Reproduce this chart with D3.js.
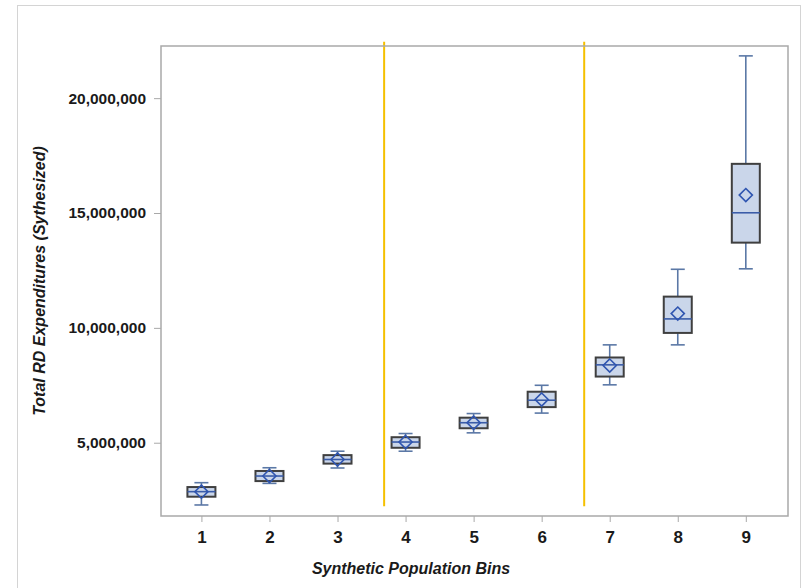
<!DOCTYPE html>
<html>
<head>
<meta charset="utf-8">
<script src="https://cdn.jsdelivr.net/npm/d3@7/dist/d3.min.js"></script>
<style>
    body { margin: 0; background: #fff; }
    svg { display: block; }
    .tick-y { font-family: "Liberation Sans", Arial, sans-serif; font-weight: bold; font-size: 15.5px; fill: #1a1a1a; }
    .tick-x { font-family: "Liberation Sans Narrow", "Arial Narrow", sans-serif; font-weight: bold; font-size: 17px; fill: #1a1a1a; }
    .title-x { font-family: "Liberation Sans Narrow", "Arial Narrow", sans-serif; font-weight: bold; font-style: italic; font-size: 16px; fill: #1a1a1a; }
    .title-y { font-family: "Liberation Sans", Arial, sans-serif; font-weight: bold; font-style: italic; font-size: 16px; fill: #1a1a1a; }
</style>
</head>
<body>
<svg id="chart" width="806" height="588"></svg>
<script>
// synthetic population bins and box statistics (millions)
var bins    = [1, 2, 3, 4, 5, 6, 7, 8, 9];
var mins    = [2.29, 3.23, 3.90, 4.63, 5.43, 6.29, 7.52, 9.26, 12.57];
var q1s     = [2.65, 3.33, 4.09, 4.78, 5.63, 6.55, 7.88, 9.78, 13.71];
var medians = [2.87, 3.55, 4.27, 5.03, 5.87, 6.85, 8.39, 10.39, 15.01];
var q3s     = [3.07, 3.77, 4.46, 5.24, 6.09, 7.22, 8.71, 11.36, 17.14];
var maxs    = [3.26, 3.91, 4.63, 5.40, 6.27, 7.50, 9.26, 12.55, 21.84];
var means   = [2.87, 3.55, 4.27, 5.03, 5.87, 6.88, 8.36, 10.62, 15.78];

var yTicks = [5, 10, 15, 20];    // millions
var refLines = [3.685, 6.625];   // vertical reference lines (bin units)
var refTop = 22.45, refBottom = 2.23;

var svg = d3.select("#chart");

var margin = { top: 46, right: 18, bottom: 72, left: 161 },
    width = 806,
    height = 588;

var x = d3.scaleLinear()
    .domain([0.406, 9.62])
    .range([margin.left, width - margin.right]);

var y = d3.scaleLinear()
    .domain([1.81, 22.27])
    .range([height - margin.bottom, margin.top]);

var boxW = 28, capW = 14;

var data = bins.map(function(b, i) {
    return { bin: b, min: mins[i], q1: q1s[i], med: medians[i], q3: q3s[i], max: maxs[i], mean: means[i] };
});

// outer border
svg.append("rect")
    .attr("x", 17.5).attr("y", 5.5)
    .attr("width", 783).attr("height", 600)
    .attr("fill", "none")
    .attr("stroke", "#d4d4d4");

// reference lines
svg.append("g")
    .selectAll("line")
    .data(refLines)
    .enter()
    .append("line")
    .attr("x1", d => x(d)).attr("x2", d => x(d))
    .attr("y1", y(refTop)).attr("y2", y(refBottom))
    .attr("stroke", "#f5c000")
    .attr("stroke-width", 2);

// boxes
var g = svg.append("g").attr("class", "boxes")
    .selectAll("g")
    .data(data)
    .enter()
    .append("g");

g.append("line")
    .attr("x1", d => x(d.bin)).attr("x2", d => x(d.bin))
    .attr("y1", d => y(d.max)).attr("y2", d => y(d.q3))
    .attr("stroke", "#5b78a6").attr("stroke-width", 1.6);

g.append("line")
    .attr("x1", d => x(d.bin)).attr("x2", d => x(d.bin))
    .attr("y1", d => y(d.q1)).attr("y2", d => y(d.min))
    .attr("stroke", "#5b78a6").attr("stroke-width", 1.6);

g.append("line")
    .attr("x1", d => x(d.bin) - capW / 2).attr("x2", d => x(d.bin) + capW / 2)
    .attr("y1", d => y(d.max)).attr("y2", d => y(d.max))
    .attr("stroke", "#5b78a6").attr("stroke-width", 1.6);

g.append("line")
    .attr("x1", d => x(d.bin) - capW / 2).attr("x2", d => x(d.bin) + capW / 2)
    .attr("y1", d => y(d.min)).attr("y2", d => y(d.min))
    .attr("stroke", "#5b78a6").attr("stroke-width", 1.6);

g.append("rect")
    .attr("x", d => x(d.bin) - boxW / 2)
    .attr("y", d => y(d.q3))
    .attr("width", boxW)
    .attr("height", d => y(d.q1) - y(d.q3))
    .attr("fill", "#cad6ea")
    .attr("stroke", "#3f3f3f")
    .attr("stroke-width", 2);

g.append("line")
    .attr("x1", d => x(d.bin) - boxW / 2).attr("x2", d => x(d.bin) + boxW / 2)
    .attr("y1", d => y(d.med)).attr("y2", d => y(d.med))
    .attr("stroke", "#3a5ca8").attr("stroke-width", 1.6);

g.append("path")
    .attr("d", d3.symbol().type(d3.symbolDiamond2).size(110))
    .attr("transform", d => `translate(${x(d.bin)},${y(d.mean)})`)
    .attr("fill", "none")
    .attr("stroke", "#2f55b0")
    .attr("stroke-width", 1.6);

// frame
svg.append("rect")
    .attr("x", margin.left).attr("y", margin.top)
    .attr("width", width - margin.right - margin.left)
    .attr("height", height - margin.bottom - margin.top)
    .attr("fill", "none")
    .attr("stroke", "#a9a9a9")
    .attr("stroke-width", 1.5);

// y axis
var yAxis = svg.append("g")
    .attr("transform", `translate(${margin.left},0)`)
    .call(d3.axisLeft(y).tickValues(yTicks).tickSize(7).tickPadding(8)
        .tickFormat(d => d3.format(",")(d * 1000000)));
yAxis.select(".domain").remove();
yAxis.selectAll("line").attr("stroke", "#a9a9a9");
yAxis.attr("font-family", null).attr("font-size", null);
yAxis.selectAll("text").attr("class", "tick-y").attr("fill", null);

// x axis
var xAxis = svg.append("g")
    .attr("transform", `translate(0,${height - margin.bottom})`)
    .call(d3.axisBottom(x).tickValues(bins).tickSize(6).tickPadding(9).tickFormat(d3.format("d")));
xAxis.select(".domain").remove();
xAxis.selectAll("line").attr("stroke", "#a9a9a9");
xAxis.attr("font-family", null).attr("font-size", null);
xAxis.selectAll("text").attr("class", "tick-x").attr("fill", null);

// titles
svg.append("text")
    .attr("class", "title-x")
    .attr("x", 411).attr("y", 574)
    .attr("text-anchor", "middle")
    .text("Synthetic Population Bins");

svg.append("text")
    .attr("class", "title-y")
    .attr("transform", "translate(45,281) rotate(-90)")
    .attr("text-anchor", "middle")
    .text("Total RD Expenditures (Sythesized)");
</script>
</body>
</html>
